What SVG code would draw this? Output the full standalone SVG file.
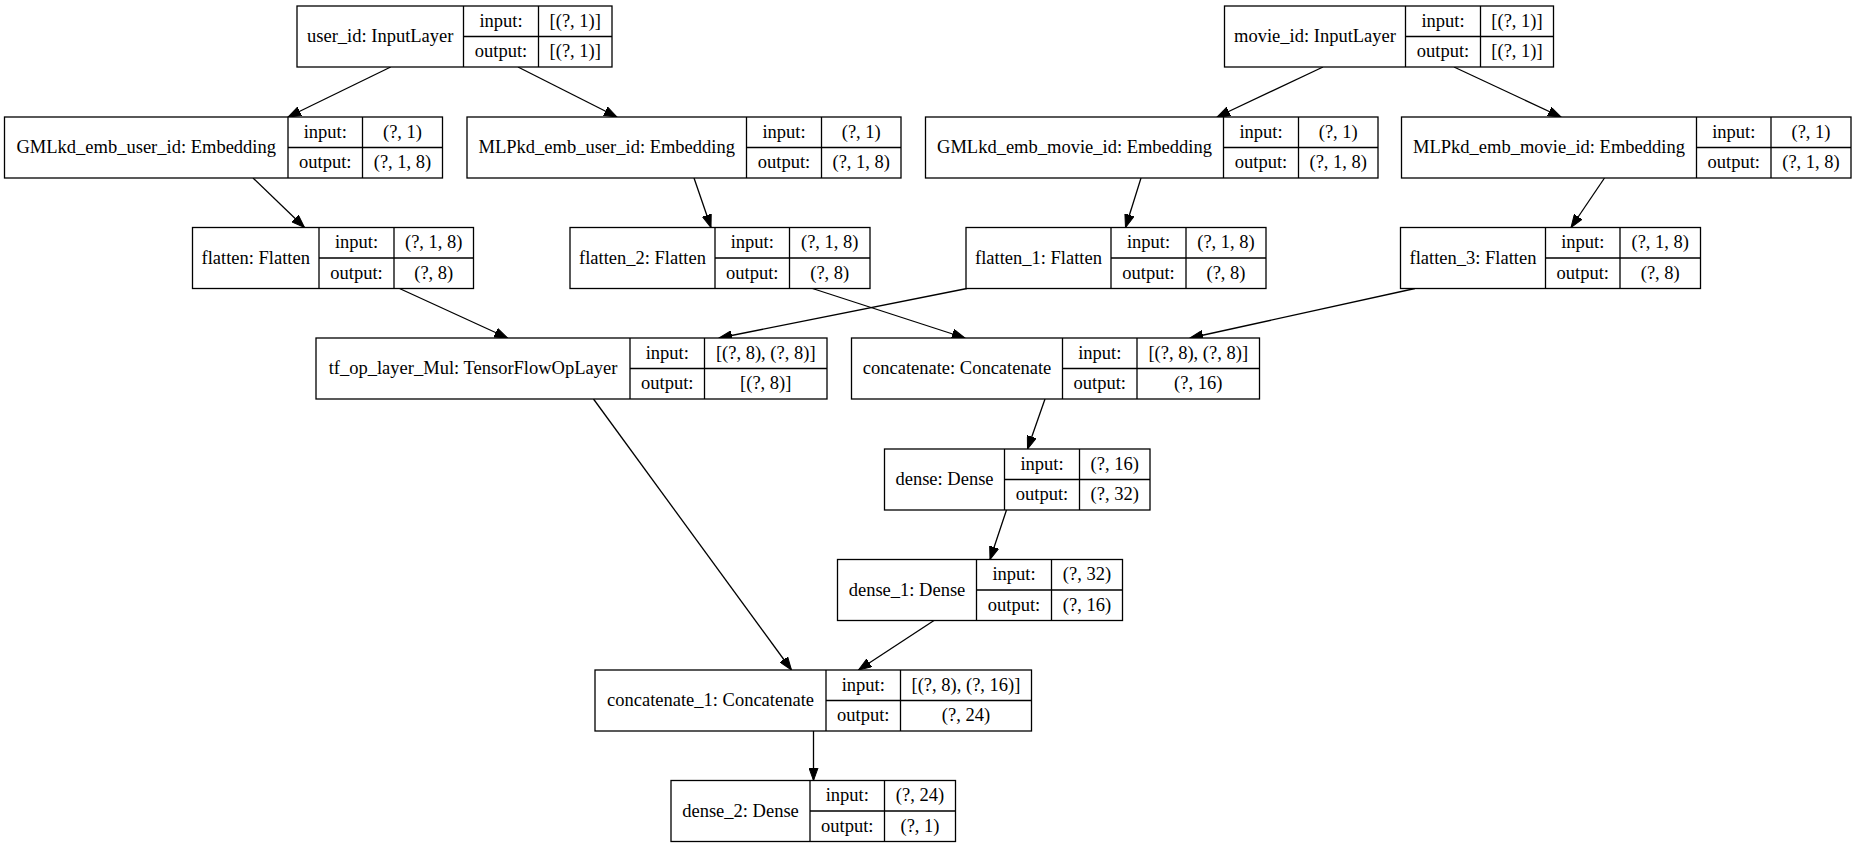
<svg xmlns="http://www.w3.org/2000/svg" width="1857" height="848" viewBox="0 0 1857 848">
<style>
.box{fill:#fff;stroke:#000;stroke-width:1.3}
.div{stroke:#000;stroke-width:1.3;fill:none}
.t{font-family:"Liberation Serif","Times New Roman",serif;font-size:18.5px;fill:#000;text-anchor:middle}
.e{stroke:#000;stroke-width:1.3;fill:none;marker-end:url(#ah)}
</style>
<defs>
<marker id="ah" markerUnits="userSpaceOnUse" markerWidth="14" markerHeight="10" refX="13" refY="5" orient="auto">
<path d="M0,0.3 L13,5 L0,9.7 Z" fill="#000" stroke="#000" stroke-width="1"/>
</marker>
</defs>
<rect width="1857" height="848" fill="#fff"/>
<g id="connectors">
<line class="e" x1="390.7" y1="67" x2="288" y2="117"/>
<line class="e" x1="518" y1="67" x2="617" y2="117"/>
<line class="e" x1="1323" y1="67" x2="1217" y2="117"/>
<line class="e" x1="1454" y1="67" x2="1561" y2="117"/>
<line class="e" x1="253" y1="178" x2="304.5" y2="227.5"/>
<line class="e" x1="694" y1="178" x2="711" y2="227.5"/>
<line class="e" x1="1141" y1="178" x2="1125.5" y2="227.5"/>
<line class="e" x1="1604.5" y1="178" x2="1571" y2="227.5"/>
<line class="e" x1="399.5" y1="288.5" x2="507.5" y2="338"/>
<line class="e" x1="967" y1="288.5" x2="719" y2="338"/>
<line class="e" x1="812.5" y1="288.5" x2="965" y2="338"/>
<line class="e" x1="1415" y1="288.5" x2="1190" y2="338"/>
<line class="e" x1="1045" y1="399" x2="1027.5" y2="449"/>
<line class="e" x1="1006.5" y1="510" x2="990" y2="559.5"/>
<line class="e" x1="593.5" y1="399" x2="791.5" y2="670"/>
<line class="e" x1="934" y1="620.5" x2="858.5" y2="670"/>
<line class="e" x1="813.5" y1="731" x2="813.5" y2="780.5"/>
</g>
<g id="user_id">
<rect class="box" x="297" y="6" width="315" height="61"/>
<path class="div" d="M463.5,6V67M538.5,6V67M463.5,36.5H612"/>
<text class="t" x="380.25" y="42">user_id: InputLayer</text>
<text class="t" x="501" y="26.75">input:</text>
<text class="t" x="501" y="57.25">output:</text>
<text class="t" x="575.25" y="26.75">[(?, 1)]</text>
<text class="t" x="575.25" y="57.25">[(?, 1)]</text>
</g>
<g id="movie_id">
<rect class="box" x="1224.5" y="6" width="329" height="61"/>
<path class="div" d="M1405.5,6V67M1480.5,6V67M1405.5,36.5H1553.5"/>
<text class="t" x="1315" y="42">movie_id: InputLayer</text>
<text class="t" x="1443" y="26.75">input:</text>
<text class="t" x="1443" y="57.25">output:</text>
<text class="t" x="1517" y="26.75">[(?, 1)]</text>
<text class="t" x="1517" y="57.25">[(?, 1)]</text>
</g>
<g id="GMLkd_emb_user_id">
<rect class="box" x="4.5" y="117" width="438" height="61"/>
<path class="div" d="M288,117V178M362.5,117V178M288,147.5H442.5"/>
<text class="t" x="146.25" y="153">GMLkd_emb_user_id: Embedding</text>
<text class="t" x="325.25" y="137.75">input:</text>
<text class="t" x="325.25" y="168.25">output:</text>
<text class="t" x="402.5" y="137.75">(?, 1)</text>
<text class="t" x="402.5" y="168.25">(?, 1, 8)</text>
</g>
<g id="MLPkd_emb_user_id">
<rect class="box" x="467" y="117" width="434" height="61"/>
<path class="div" d="M746.5,117V178M821.5,117V178M746.5,147.5H901"/>
<text class="t" x="606.75" y="153">MLPkd_emb_user_id: Embedding</text>
<text class="t" x="784" y="137.75">input:</text>
<text class="t" x="784" y="168.25">output:</text>
<text class="t" x="861.25" y="137.75">(?, 1)</text>
<text class="t" x="861.25" y="168.25">(?, 1, 8)</text>
</g>
<g id="GMLkd_emb_movie_id">
<rect class="box" x="925.5" y="117" width="452.5" height="61"/>
<path class="div" d="M1223.5,117V178M1298.5,117V178M1223.5,147.5H1378"/>
<text class="t" x="1074.5" y="153">GMLkd_emb_movie_id: Embedding</text>
<text class="t" x="1261" y="137.75">input:</text>
<text class="t" x="1261" y="168.25">output:</text>
<text class="t" x="1338.25" y="137.75">(?, 1)</text>
<text class="t" x="1338.25" y="168.25">(?, 1, 8)</text>
</g>
<g id="MLPkd_emb_movie_id">
<rect class="box" x="1401.5" y="117" width="449.5" height="61"/>
<path class="div" d="M1696.5,117V178M1771,117V178M1696.5,147.5H1851"/>
<text class="t" x="1549" y="153">MLPkd_emb_movie_id: Embedding</text>
<text class="t" x="1733.75" y="137.75">input:</text>
<text class="t" x="1733.75" y="168.25">output:</text>
<text class="t" x="1811" y="137.75">(?, 1)</text>
<text class="t" x="1811" y="168.25">(?, 1, 8)</text>
</g>
<g id="flatten">
<rect class="box" x="192.5" y="227.5" width="281" height="61"/>
<path class="div" d="M319,227.5V288.5M394,227.5V288.5M319,258H473.5"/>
<text class="t" x="255.75" y="263.5">flatten: Flatten</text>
<text class="t" x="356.5" y="248.25">input:</text>
<text class="t" x="356.5" y="278.75">output:</text>
<text class="t" x="433.75" y="248.25">(?, 1, 8)</text>
<text class="t" x="433.75" y="278.75">(?, 8)</text>
</g>
<g id="flatten_2">
<rect class="box" x="570" y="227.5" width="300" height="61"/>
<path class="div" d="M715,227.5V288.5M789.5,227.5V288.5M715,258H870"/>
<text class="t" x="642.5" y="263.5">flatten_2: Flatten</text>
<text class="t" x="752.25" y="248.25">input:</text>
<text class="t" x="752.25" y="278.75">output:</text>
<text class="t" x="829.75" y="248.25">(?, 1, 8)</text>
<text class="t" x="829.75" y="278.75">(?, 8)</text>
</g>
<g id="flatten_1">
<rect class="box" x="966" y="227.5" width="300" height="61"/>
<path class="div" d="M1111,227.5V288.5M1186,227.5V288.5M1111,258H1266"/>
<text class="t" x="1038.5" y="263.5">flatten_1: Flatten</text>
<text class="t" x="1148.5" y="248.25">input:</text>
<text class="t" x="1148.5" y="278.75">output:</text>
<text class="t" x="1226" y="248.25">(?, 1, 8)</text>
<text class="t" x="1226" y="278.75">(?, 8)</text>
</g>
<g id="flatten_3">
<rect class="box" x="1400.5" y="227.5" width="300" height="61"/>
<path class="div" d="M1545.5,227.5V288.5M1620,227.5V288.5M1545.5,258H1700.5"/>
<text class="t" x="1473" y="263.5">flatten_3: Flatten</text>
<text class="t" x="1582.75" y="248.25">input:</text>
<text class="t" x="1582.75" y="278.75">output:</text>
<text class="t" x="1660.25" y="248.25">(?, 1, 8)</text>
<text class="t" x="1660.25" y="278.75">(?, 8)</text>
</g>
<g id="tf_op_layer_Mul">
<rect class="box" x="316" y="338" width="511" height="61"/>
<path class="div" d="M630,338V399M704.5,338V399M630,368.5H827"/>
<text class="t" x="473" y="374">tf_op_layer_Mul: TensorFlowOpLayer</text>
<text class="t" x="667.25" y="358.75">input:</text>
<text class="t" x="667.25" y="389.25">output:</text>
<text class="t" x="765.75" y="358.75">[(?, 8), (?, 8)]</text>
<text class="t" x="765.75" y="389.25">[(?, 8)]</text>
</g>
<g id="concatenate">
<rect class="box" x="851.5" y="338" width="408" height="61"/>
<path class="div" d="M1062.5,338V399M1137,338V399M1062.5,368.5H1259.5"/>
<text class="t" x="957" y="374">concatenate: Concatenate</text>
<text class="t" x="1099.75" y="358.75">input:</text>
<text class="t" x="1099.75" y="389.25">output:</text>
<text class="t" x="1198.25" y="358.75">[(?, 8), (?, 8)]</text>
<text class="t" x="1198.25" y="389.25">(?, 16)</text>
</g>
<g id="dense">
<rect class="box" x="884.5" y="449" width="265.5" height="61"/>
<path class="div" d="M1004.5,449V510M1079.5,449V510M1004.5,479.5H1150"/>
<text class="t" x="944.5" y="485">dense: Dense</text>
<text class="t" x="1042" y="469.75">input:</text>
<text class="t" x="1042" y="500.25">output:</text>
<text class="t" x="1114.75" y="469.75">(?, 16)</text>
<text class="t" x="1114.75" y="500.25">(?, 32)</text>
</g>
<g id="dense_1">
<rect class="box" x="837.5" y="559.5" width="285" height="61"/>
<path class="div" d="M976.5,559.5V620.5M1051.5,559.5V620.5M976.5,590H1122.5"/>
<text class="t" x="907" y="595.5">dense_1: Dense</text>
<text class="t" x="1014" y="580.25">input:</text>
<text class="t" x="1014" y="610.75">output:</text>
<text class="t" x="1087" y="580.25">(?, 32)</text>
<text class="t" x="1087" y="610.75">(?, 16)</text>
</g>
<g id="concatenate_1">
<rect class="box" x="595" y="670" width="436.5" height="61"/>
<path class="div" d="M826,670V731M900.5,670V731M826,700.5H1031.5"/>
<text class="t" x="710.5" y="706">concatenate_1: Concatenate</text>
<text class="t" x="863.25" y="690.75">input:</text>
<text class="t" x="863.25" y="721.25">output:</text>
<text class="t" x="966" y="690.75">[(?, 8), (?, 16)]</text>
<text class="t" x="966" y="721.25">(?, 24)</text>
</g>
<g id="dense_2">
<rect class="box" x="671" y="780.5" width="284.5" height="61"/>
<path class="div" d="M810,780.5V841.5M884.5,780.5V841.5M810,811H955.5"/>
<text class="t" x="740.5" y="816.5">dense_2: Dense</text>
<text class="t" x="847.25" y="801.25">input:</text>
<text class="t" x="847.25" y="831.75">output:</text>
<text class="t" x="920" y="801.25">(?, 24)</text>
<text class="t" x="920" y="831.75">(?, 1)</text>
</g>
</svg>
